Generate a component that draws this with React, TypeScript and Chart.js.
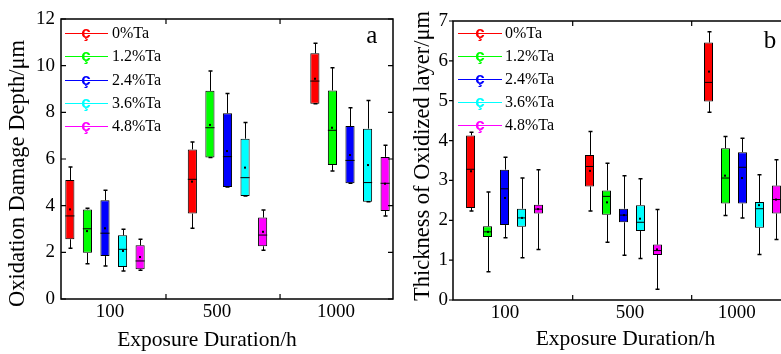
import React, { useEffect, useRef } from 'react';
import { Chart, registerables } from 'chart.js';

Chart.register(...registerables);

// ---------- data ----------
const categories = ['100', '500', '1000'];
const seriesNames = ['0%Ta', '1.2%Ta', '2.4%Ta', '3.6%Ta', '4.8%Ta'];
const seriesColors = ['#ff0000', '#00ff00', '#0000ff', '#00ffff', '#ff00ff'];

// Panel a: Oxidation Damage Depth (rows = series, cols = categories)
const depthMin = [
  [2.17, 3.03, 8.37],
  [1.51, 6.06, 5.49],
  [1.41, 4.8, 4.96],
  [1.2, 4.41, 4.17],
  [1.23, 2.09, 3.56],
];
const depthQ1 = [
  [2.56, 3.66, 8.37],
  [1.98, 6.06, 5.74],
  [1.84, 4.8, 4.96],
  [1.37, 4.41, 4.17],
  [1.27, 2.26, 3.77],
];
const depthMedian = [
  [3.56, 5.13, 9.34],
  [3.01, 7.34, 7.23],
  [2.82, 6.1, 5.94],
  [2.13, 5.2, 4.99],
  [1.63, 2.74, 4.96],
];
const depthQ3 = [
  [5.1, 6.41, 10.53],
  [3.84, 8.92, 8.94],
  [4.23, 7.96, 7.41],
  [2.73, 6.87, 7.3],
  [2.3, 3.49, 6.09],
];
const depthMax = [
  [5.66, 6.73, 10.96],
  [3.89, 9.77, 9.91],
  [4.66, 8.81, 8.2],
  [2.99, 7.56, 8.51],
  [2.56, 3.81, 6.59],
];
const depthMean = [
  [3.84, 5.03, 9.44],
  [2.91, 7.46, 7.34],
  [3.03, 6.34, 6.17],
  [2.06, 5.63, 5.74],
  [1.8, 2.88, 4.94],
];

// Panel b: Thickness of Oxidized layer
const thickMin = [
  [2.23, 2.23, 4.71],
  [0.71, 1.45, 2.12],
  [1.56, 1.12, 2.06],
  [1.06, 1.04, 1.14],
  [1.27, 0.27, 1.52],
];
const thickQ1 = [
  [2.31, 2.85, 4.98],
  [1.58, 2.14, 2.42],
  [1.88, 1.95, 2.42],
  [1.84, 1.73, 1.81],
  [2.17, 1.13, 2.17],
];
const thickMedian = [
  [3.28, 3.35, 5.46],
  [1.71, 2.6, 3.06],
  [2.79, 2.13, 3.33],
  [2.06, 1.95, 2.29],
  [2.28, 1.24, 2.52],
];
const thickQ3 = [
  [4.13, 3.64, 6.46],
  [1.85, 2.75, 3.81],
  [3.27, 2.29, 3.71],
  [2.29, 2.38, 2.46],
  [2.39, 1.39, 2.87],
];
const thickMax = [
  [4.21, 4.23, 6.73],
  [2.71, 3.43, 4.1],
  [3.58, 3.12, 4.06],
  [3.06, 3.04, 3.14],
  [3.27, 2.27, 3.52],
];
const thickMean = [
  [3.23, 3.24, 5.73],
  [1.71, 2.45, 3.12],
  [2.56, 2.13, 3.06],
  [2.06, 2.04, 2.38],
  [2.28, 1.27, 2.52],
];

const depthYMax = 12;
const depthYStep = 2;
const thickYMax = 7;
const thickYStep = 1;

// ---------- styling / layout ----------
const FONT = "'Liberation Serif', 'Times New Roman', serif";
const GLYPH_FONT = "'Liberation Sans', Arial, sans-serif";

const panelA = {
  stats: { min: depthMin, q1: depthQ1, median: depthMedian, q3: depthQ3, max: depthMax, mean: depthMean },
  yMax: depthYMax, yStep: depthYStep,
  yTitle: 'Oxidation Damage Depth/\u03bcm', xTitle: 'Exposure Duration/h', letter: 'a',
  canvasLeft: 0, canvasWidth: 400,
  plotLeft: 61, plotRight: 393, plotTop: 19, plotBottom: 299,
  xMin: -0.359, xMax: 2.351,
  labelPos: [0.041, 0.914, 1.886], dividers: [0.498, 1.429],
  catPct: 0.717, barPct: 0.52, tickPad: 6, yTicksOut: false,
  yTitlePos: [18.5, 173.5], xTitlePos: [207, 346],
  legend: { x1: 65, x2: 108, gx: 86, tx: 112, y0: 33, step: 23.25 },
  letterPos: [371.7, 43.3],
};

const panelB = {
  stats: { min: thickMin, q1: thickQ1, median: thickMedian, q3: thickQ3, max: thickMax, mean: thickMean },
  yMax: thickYMax, yStep: thickYStep,
  yTitle: 'Thickness of Oxidized layer/\u03bcm', xTitle: 'Exposure Duration/h', letter: 'b',
  canvasLeft: 400, canvasWidth: 401,
  plotLeft: 53, plotRight: 394, plotTop: 21, plotBottom: 300,
  xMin: -0.433, xMax: 2.433,
  labelPos: [0.004, 1.055, 1.951], dividers: [0.573, 1.573],
  catPct: 0.714, barPct: 0.53, tickPad: 5, yTicksOut: true,
  yTitlePos: [23, 156], xTitlePos: [225.5, 345],
  legend: { x1: 58, x2: 102, gx: 80, tx: 105, y0: 33, step: 23 },
  letterPos: [370, 48.3],
};

type PanelDef = typeof panelA;
const H = 354;

function makePlugin(p: PanelDef) {
  return {
    id: 'boxExtras',
    afterDatasetsDraw(chart: any) {
      const ctx = chart.ctx;
      const ys = chart.scales.y;
      ctx.save();
      ctx.strokeStyle = '#000';
      ctx.fillStyle = '#000';
      seriesNames.forEach((_, s) => {
        const meta = chart.getDatasetMeta(s);
        meta.data.forEach((el: any, c: number) => {
          const x = Math.round(el.x) + 0.5;
          const w = el.width;
          const yMin = ys.getPixelForValue(p.stats.min[s][c]);
          const yQ1 = ys.getPixelForValue(p.stats.q1[s][c]);
          const yMed = ys.getPixelForValue(p.stats.median[s][c]);
          const yQ3 = ys.getPixelForValue(p.stats.q3[s][c]);
          const yMax = ys.getPixelForValue(p.stats.max[s][c]);
          const yMean = ys.getPixelForValue(p.stats.mean[s][c]);
          ctx.lineWidth = 1;
          ctx.beginPath();
          ctx.moveTo(x, yQ3);
          ctx.lineTo(x, yMax);
          ctx.moveTo(x, yQ1);
          ctx.lineTo(x, yMin);
          ctx.stroke();
          ctx.lineWidth = 1.5;
          ctx.beginPath();
          ctx.moveTo(x - 2, yMax);
          ctx.lineTo(x + 2, yMax);
          ctx.moveTo(x - 2, yMin);
          ctx.lineTo(x + 2, yMin);
          ctx.stroke();
          ctx.lineWidth = 1;
          ctx.beginPath();
          ctx.moveTo(el.x - w / 2, yMed);
          ctx.lineTo(el.x + w / 2, yMed);
          ctx.stroke();
          ctx.fillRect(x - 1.5, yMean - 1, 2, 2);
        });
      });
      ctx.restore();
    },
    afterDraw(chart: any) {
      const ctx = chart.ctx;
      const { left, right, top, bottom } = chart.chartArea;
      const ys = chart.scales.y;
      const xs = chart.scales.x;
      ctx.save();
      ctx.strokeStyle = '#000';
      ctx.lineWidth = 1.5;
      ctx.strokeRect(left, top, right - left, bottom - top);
      ctx.lineWidth = 1.2;
      ctx.beginPath();
      for (let v = 0; v <= p.yMax; v += p.yStep) {
        const y = ys.getPixelForValue(v);
        if (p.yTicksOut) {
          ctx.moveTo(left - 4, y);
          ctx.lineTo(left, y);
        } else {
          ctx.moveTo(left, y);
          ctx.lineTo(left + 5, y);
        }
        ctx.moveTo(right - 5, y);
        ctx.lineTo(right, y);
      }
      p.dividers.forEach((d) => {
        const x = xs.getPixelForValue(d);
        ctx.moveTo(x, bottom);
        ctx.lineTo(x, bottom - 5);
        ctx.moveTo(x, top);
        ctx.lineTo(x, top + 5);
      });
      ctx.stroke();

      // axis titles
      ctx.fillStyle = '#000';
      ctx.font = `21.5px ${FONT}`;
      ctx.textAlign = 'center';
      ctx.textBaseline = 'alphabetic';
      ctx.fillText(p.xTitle, p.xTitlePos[0], p.xTitlePos[1]);
      ctx.save();
      ctx.font = `22.5px ${FONT}`;
      ctx.translate(p.yTitlePos[0], p.yTitlePos[1]);
      ctx.rotate(-Math.PI / 2);
      ctx.textAlign = 'center';
      ctx.textBaseline = 'middle';
      ctx.fillText(p.yTitle, 0, 0);
      ctx.restore();

      // panel letter
      ctx.font = `25px ${FONT}`;
      ctx.textAlign = 'center';
      ctx.textBaseline = 'alphabetic';
      ctx.fillText(p.letter, p.letterPos[0], p.letterPos[1]);

      // legend
      const L = p.legend;
      seriesNames.forEach((name, s) => {
        const y = L.y0 + s * L.step;
        ctx.strokeStyle = seriesColors[s];
        ctx.lineWidth = 1;
        ctx.beginPath();
        ctx.moveTo(L.x1, Math.round(y) + 0.5);
        ctx.lineTo(L.x2, Math.round(y) + 0.5);
        ctx.stroke();
        ctx.fillStyle = seriesColors[s];
        ctx.font = `bold 17px ${GLYPH_FONT}`;
        ctx.textAlign = 'center';
        ctx.textBaseline = 'alphabetic';
        ctx.fillText('\u00e7', L.gx, y + 5);
        ctx.fillStyle = '#000';
        ctx.font = `16px ${FONT}`;
        ctx.textAlign = 'left';
        ctx.textBaseline = 'middle';
        ctx.fillText(name, L.tx, y + 1);
      });
      ctx.restore();
    },
  };
}

function buildConfig(p: PanelDef): any {
  const datasets = seriesNames.map((name, s) => ({
    label: name,
    data: categories.map((_, c) => ({ x: c, y: [p.stats.q1[s][c], p.stats.q3[s][c]] })),
    backgroundColor: seriesColors[s],
    borderColor: '#000',
    borderWidth: 1,
    borderSkipped: false,
    categoryPercentage: p.catPct,
    barPercentage: p.barPct,
    xAxisID: 'x',
    yAxisID: 'y',
  }));
  const tickFont = { family: FONT, size: 19 };
  return {
    type: 'bar',
    data: { datasets },
    options: {
      animation: false,
      responsive: false,
      devicePixelRatio: 1,
      layout: { padding: { top: p.plotTop, right: p.canvasWidth - p.plotRight, left: 0, bottom: 0 } },
      plugins: { legend: { display: false }, tooltip: { enabled: false } },
      scales: {
        x: {
          type: 'linear',
          display: false,
          offset: false,
          grid: { offset: false },
          min: p.xMin,
          max: p.xMax,
          afterBuildTicks: (s: any) => {
            s.ticks = categories.map((_, i) => ({ value: i }));
          },
        },
        xLabels: {
          type: 'linear',
          axis: 'x',
          position: 'bottom',
          offset: false,
          min: p.xMin,
          max: p.xMax,
          afterBuildTicks: (s: any) => {
            s.ticks = p.labelPos.map((v) => ({ value: v }));
          },
          ticks: {
            callback: (_v: any, i: number) => categories[i],
            font: tickFont,
            color: '#000',
            padding: 2,
            maxRotation: 0,
            autoSkip: false,
          },
          grid: { display: false, drawTicks: false, offset: false },
          border: { display: false },
          afterFit: (s: any) => {
            s.height = H - p.plotBottom;
          },
        },
        y: {
          type: 'linear',
          min: 0,
          max: p.yMax,
          ticks: { stepSize: p.yStep, font: tickFont, color: '#000', padding: p.tickPad },
          grid: { display: false, drawTicks: false },
          border: { display: false },
          afterFit: (s: any) => {
            s.width = p.plotLeft;
          },
        },
      },
    },
    plugins: [makePlugin(p)],
  };
}

function Panel({ def }: { def: PanelDef }) {
  const ref = useRef<HTMLCanvasElement | null>(null);
  useEffect(() => {
    if (!ref.current) return;
    const chart = new Chart(ref.current, buildConfig(def));
    return () => chart.destroy();
  }, [def]);
  return (
    <canvas
      ref={ref}
      width={def.canvasWidth}
      height={H}
      style={{ position: 'absolute', left: def.canvasLeft, top: 0, width: def.canvasWidth, height: H }}
    />
  );
}

export default function App() {
  return (
    <div
      style={{
        position: 'fixed',
        left: 0,
        top: 0,
        width: 781,
        height: H,
        overflow: 'hidden',
        background: '#fff',
      }}
    >
      <Panel def={panelA} />
      <Panel def={panelB} />
    </div>
  );
}
